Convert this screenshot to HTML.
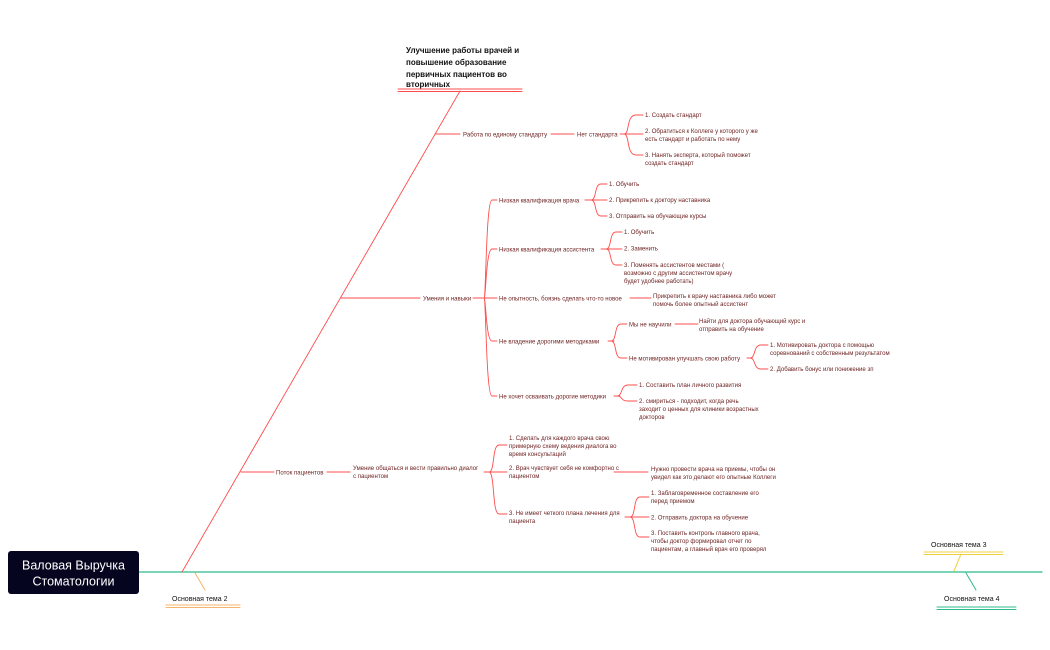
<!DOCTYPE html>
<html><head><meta charset="utf-8"><style>
html,body{margin:0;padding:0;background:#fff;}
svg{display:block;}
text{font-family:"Liberation Sans",sans-serif;}
.t{font-size:6.05px;fill:#6e2222;}
</style></head><body>
<svg width="1050" height="650" viewBox="0 0 1050 650" xmlns="http://www.w3.org/2000/svg">
<g fill="none" stroke-linecap="round">
<line x1="139" y1="572" x2="1042" y2="572" stroke="#2dbb8a" stroke-width="1.3"/>
<line x1="195" y1="573" x2="205" y2="590" stroke="#f5b469" stroke-width="1"/>
<line x1="166" y1="605" x2="240" y2="605" stroke="#f5b469" stroke-width="1"/>
<line x1="166" y1="607.5" x2="240" y2="607.5" stroke="#f5b469" stroke-width="1"/>
<line x1="961" y1="554" x2="954" y2="571" stroke="#f0d040" stroke-width="1"/>
<line x1="924" y1="552" x2="1003" y2="552" stroke="#f0d040" stroke-width="1"/>
<line x1="924" y1="554.5" x2="1003" y2="554.5" stroke="#f0d040" stroke-width="1"/>
<line x1="966" y1="573" x2="976" y2="590" stroke="#2dbb8a" stroke-width="1"/>
<line x1="937" y1="607" x2="1016" y2="607" stroke="#2dbb8a" stroke-width="1"/>
<line x1="937" y1="609.5" x2="1016" y2="609.5" stroke="#2dbb8a" stroke-width="1"/>

<g stroke="#ff4d4d" stroke-width="0.9">
<line x1="182" y1="572" x2="460" y2="91"/>
<line x1="398" y1="89" x2="522" y2="89" stroke-width="1"/>
<line x1="398" y1="91.5" x2="522" y2="91.5" stroke-width="1"/>
<line x1="435" y1="134" x2="460" y2="134"/>
<line x1="551" y1="134" x2="574" y2="134"/>
<line x1="620" y1="134" x2="628" y2="134"/>
<path d="M624 134 C630 134 626 115 636 115 L643 115"/>
<path d="M624 134 L643 134"/>
<path d="M624 134 C630 134 626 155 636 155 L643 155"/>
<line x1="341" y1="298" x2="420" y2="298"/>
<line x1="473" y1="298" x2="497" y2="298"/>
<path d="M484 298 C486 298 486 200 492 200 L497 200"/>
<path d="M484 298 C486 298 486 249 492 249 L497 249"/>
<path d="M484 298 C486 298 486 341 492 341 L497 341"/>
<path d="M484 298 C486 298 486 396 492 396 L497 396"/>
<path d="M585 200 L607 200"/>
<path d="M591 200 C597 200 594 184 601 184 L607 184"/>
<path d="M591 200 C597 200 594 216 601 216 L607 216"/>
<path d="M601 249 L622 249"/>
<path d="M606 249 C612 249 609 232 616 232 L622 232"/>
<path d="M606 249 C612 249 609 265 616 265 L622 265"/>
<line x1="630" y1="298" x2="651" y2="298"/>
<path d="M608 341 L614 341"/>
<path d="M611 341 C617 341 614 324 621 324 L627 324"/>
<path d="M611 341 C617 341 614 358 621 358 L627 358"/>
<line x1="675" y1="324" x2="698" y2="324"/>
<path d="M747 358 L752 358"/>
<path d="M750 358 C756 358 753 345 761 345 L768 345"/>
<path d="M750 358 C756 358 753 369 761 369 L768 369"/>
<path d="M614 396 L620 396"/>
<path d="M617 396 C623 396 620 385 628 385 L637 385"/>
<path d="M617 396 C623 396 620 401 628 401 L637 401"/>
<line x1="241" y1="472" x2="274" y2="472"/>
<line x1="327" y1="472" x2="350" y2="472"/>
<path d="M484 472 L507 472"/>
<path d="M489 472 C495 472 492 445 499 445 L507 445"/>
<path d="M489 472 C495 472 492 514 499 514 L507 514"/>
<line x1="614" y1="472" x2="648" y2="472"/>
<path d="M625 517 L649 517"/>
<path d="M630 517 C636 517 633 497 640 497 L649 497"/>
<path d="M630 517 C636 517 633 537 640 537 L649 537"/>
</g>
</g>

<rect x="8" y="551" width="131" height="43" rx="3" fill="#05051f"/>
<text x="73.5" y="569.5" text-anchor="middle" fill="#fff" font-size="12.5">Валовая Выручка</text>
<text x="73.5" y="585.5" text-anchor="middle" fill="#fff" font-size="12.5">Стоматологии</text>

<text font-size="8" fill="#111" style="font-weight:600">
<tspan x="406" y="53">Улучшение работы врачей и</tspan>
<tspan x="406" y="65">повышение образование</tspan>
<tspan x="406" y="77">первичных пациентов во</tspan>
<tspan x="406" y="87">вторичных</tspan>
</text>

<text x="172" y="601" font-size="7" fill="#111">Основная тема 2</text>
<text x="931" y="547" font-size="7" fill="#111">Основная тема 3</text>
<text x="944" y="601" font-size="7" fill="#111">Основная тема 4</text>

<g class="t">
<text x="463" y="136.5">Работа по единому стандарту</text>
<text x="577" y="136.5">Нет стандарта</text>
<text x="645" y="117">1. Создать стандарт</text>
<text x="645" y="133">2. Обратиться к Коллеге у которого у же</text>
<text x="645" y="141">есть стандарт и работать по нему</text>
<text x="645" y="157">3. Нанять эксперта, который поможет</text>
<text x="645" y="165">создать стандарт</text>

<text x="423" y="300.5">Умения и навыки</text>
<text x="499" y="202.5">Низкая квалификация врача</text>
<text x="609" y="186">1. Обучить</text>
<text x="609" y="202">2. Прикрепить к доктору наставника</text>
<text x="609" y="218">3. Отправить на обучающие курсы</text>

<text x="499" y="251.5">Низкая квалификация ассистента</text>
<text x="624" y="234">1. Обучить</text>
<text x="624" y="250.5">2. Заменить</text>
<text x="624" y="267">3. Поменять ассистентов местами (</text>
<text x="624" y="275">возможно с другим ассистентом врачу</text>
<text x="624" y="283">будет удобнее работать)</text>

<text x="499" y="300.5">Не опытность, боязнь сделать что-то новое</text>
<text x="653" y="298">Прикрепить к врачу наставника либо может</text>
<text x="653" y="306">помочь более опытный ассистент</text>

<text x="499" y="343.5">Не владение дорогими методиками</text>
<text x="629" y="326.5">Мы не научили</text>
<text x="699" y="323">Найти для доктора обучающий курс и</text>
<text x="699" y="331">отправить на обучение</text>
<text x="629" y="360.5">Не мотивирован улучшать свою работу</text>
<text x="770" y="347">1. Мотивировать доктора с помощью</text>
<text x="770" y="355">соревнований с собственным результатом</text>
<text x="770" y="371">2. Добавить бонус или понижение зп</text>

<text x="499" y="398.5">Не хочет осваивать дорогие методики</text>
<text x="639" y="387">1. Составить план личного развития</text>
<text x="639" y="403">2. смириться - подходит, когда речь</text>
<text x="639" y="411">заходит о ценных для клиники возрастных</text>
<text x="639" y="419">докторов</text>

<text x="276" y="474.5">Поток пациентов</text>
<text x="353" y="470">Умение общаться и вести правильно диалог</text>
<text x="353" y="478">с пациентом</text>
<text x="509" y="440">1. Сделать для каждого врача свою</text>
<text x="509" y="448">примерную схему ведения диалога во</text>
<text x="509" y="456">время консультаций</text>
<text x="509" y="470">2. Врач чувствует себя не комфортно с</text>
<text x="509" y="478">пациентом</text>
<text x="509" y="515">3. Не имеет четкого плана лечения для</text>
<text x="509" y="523">пациента</text>
<text x="651" y="471">Нужно провести врача на приемы, чтобы он</text>
<text x="651" y="479">увидел как это делают его опытные Коллеги</text>
<text x="651" y="495">1. Заблаговременное составление его</text>
<text x="651" y="503">перед приемом</text>
<text x="651" y="519.5">2. Отправить доктора на обучение</text>
<text x="651" y="535">3. Поставить контроль главного врача,</text>
<text x="651" y="543">чтобы доктор формировал отчет по</text>
<text x="651" y="551">пациентам, а главный врач его проверял</text>
</g>
</svg>
</body></html>
